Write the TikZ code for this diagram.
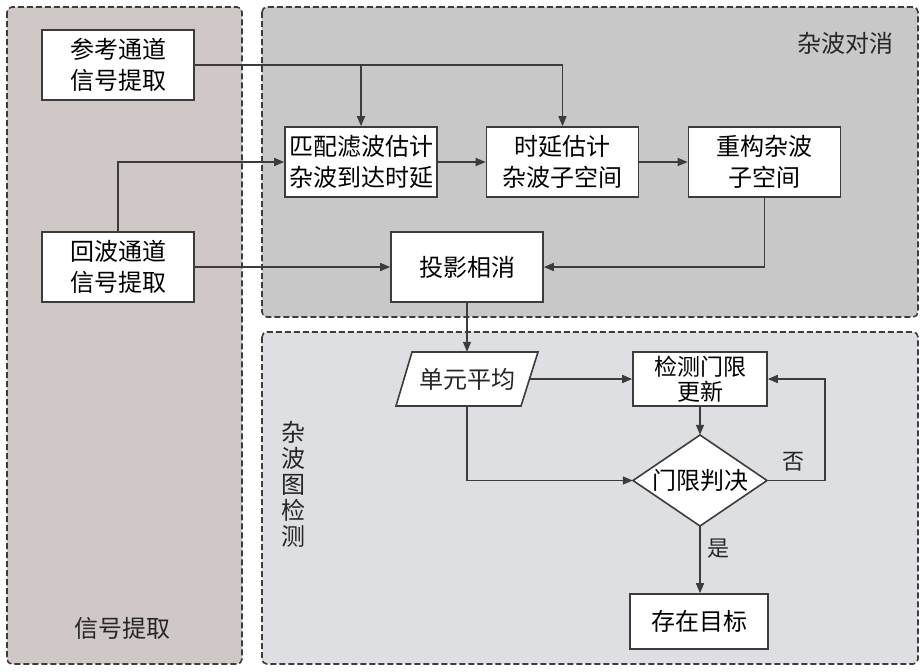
\documentclass[tikz,border=0pt]{standalone}
\usepackage{fontspec}
\setmainfont{Noto Sans CJK SC}
\usetikzlibrary{arrows.meta,shapes.geometric}
\definecolor{panelA}{RGB}{207,200,199}
\definecolor{panelB}{RGB}{200,200,200}
\definecolor{panelC}{RGB}{222,223,226}
\definecolor{lncol}{RGB}{60,60,60}
\tikzset{
  panel/.style={draw=lncol, dashed, dash pattern=on 6pt off 3pt, line width=1.6pt, rounded corners=5pt},
  box/.style={draw=lncol, fill=white, line width=1.6pt, minimum width=152pt, minimum height=70pt, inner sep=0pt, align=center, font=\fontsize{24}{31}\selectfont},
  lbl/.style={font=\fontsize{24}{31}\selectfont, text=black!85, inner sep=0pt},
  arr/.style={draw=lncol, line width=1.5pt, -{Triangle[length=10pt,width=8pt]}},
  shapeline/.style={draw=lncol, fill=white, line width=1.6pt}
}
\begin{document}
\begin{tikzpicture}[x=1pt,y=-1pt]
\useasboundingbox[fill=white] (0,0) rectangle (924,672);
% panels
\draw[panel, fill=panelA] (7,7) rectangle (242,664);
\draw[panel, fill=panelB] (262,7) rectangle (918,317);
\draw[panel, fill=panelC] (262,332) rectangle (918,664);
% panel labels
\node[lbl] (t1) at (845,43) {杂波对消};
\node[lbl] (t2) at (122,628) {信号提取};
\node[lbl, align=center, font=\fontsize{24}{26}\selectfont] (t3) at (293,484) {杂\\波\\图\\检\\测};
% boxes
\node[box] (ref) at (118,65) {参考通道\\信号提取};
\node[box] (echo) at (118,267) {回波通道\\信号提取};
\node[box] (mf) at (361,162) {匹配滤波估计\\杂波到达时延};
\node[box] (sy) at (562.5,162) {时延估计\\杂波子空间};
\node[box] (cg) at (764.5,162) {重构杂波\\子空间};
\node[box] (ty) at (467,267) {投影相消};
% parallelogram
\draw[shapeline] (396,406) -- (412,352) -- (538,352) -- (521,406) -- cycle;
\node[lbl, minimum width=142pt, minimum height=54pt] (ua) at (467,379) {单元平均};
\coordinate (uaR) at (530,379);
\node[box, minimum width=134pt, minimum height=54pt, font=\fontsize{23}{25}\selectfont] (jc) at (700,379) {检测门限\\更新};
% diamond
\draw[shapeline] (633,480.5) -- (700,435) -- (767,480.5) -- (700,526) -- cycle;
\node[inner sep=0pt, minimum width=134pt, minimum height=91pt, font=\fontsize{24}{31}\selectfont] (pj) at (700,480.5) {门限判决};
\node[box, minimum width=138pt, minimum height=55pt] (cz) at (699,621.5) {存在目标};
% connectors
\draw[arr] (ref.east) -| (sy.north);
\draw[arr] (ref.east -| mf.north) -- (mf.north);
\draw[arr] (echo.north) |- (mf.west);
\draw[arr] (echo.east) -- (echo.east -| ty.west);
\draw[arr] (mf.east) -- (sy.west);
\draw[arr] (sy.east) -- (cg.west);
\draw[arr] (cg.south) |- (ty.east);
\draw[arr] (ty.south) -- (ua.north);
\draw[arr] (uaR) -- (jc.west);
\draw[arr] (ua.south) |- (pj.west);
\draw[arr] (jc.south) -- (pj.north);
\coordinate (nr) at (825,480.5);
\draw[arr] (pj.east) -- (nr) |- (jc.east);
\draw[arr] (pj.south) -- (pj.south |- cz.north);
\node[lbl, font=\fontsize{22}{26}\selectfont] (no) at (793,462) {否};
\node[lbl, font=\fontsize{22}{26}\selectfont] (yes) at (718,549) {是};
\end{tikzpicture}
\end{document}
